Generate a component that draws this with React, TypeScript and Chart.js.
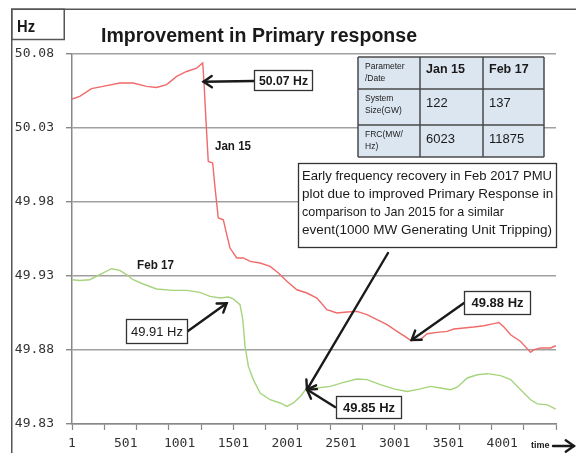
import React, { useEffect, useRef } from 'react';
import { Chart, registerables } from 'chart.js';

Chart.register(...registerables);

// ---- data ----
const jan15Samples = [1, 73, 182, 290, 445, 569, 694, 787, 881, 974, 1067, 1160, 1216, 1228, 1247, 1268, 1309, 1331, 1361, 1408, 1440, 1470, 1533, 1594, 1657, 1750, 1843, 1920, 1999, 2092, 2185, 2278, 2371, 2464, 2558, 2651, 2744, 2837, 2930, 3023, 3117, 3147, 3241, 3303, 3396, 3489, 3551, 3644, 3737, 3830, 3924, 3970, 4017, 4079, 4172, 4265, 4296, 4359, 4452, 4499];
const jan15Hz = [50.0496, 50.0514, 50.0566, 50.0581, 50.0604, 50.0604, 50.0581, 50.0574, 50.0593, 50.0649, 50.0682, 50.0705, 50.0739, 50.0615, 50.0345, 50.0074, 50.0064, 49.9895, 49.9692, 49.968, 49.9579, 49.9489, 49.9422, 49.9422, 49.9399, 49.9388, 49.9365, 49.932, 49.9264, 49.9207, 49.9185, 49.9151, 49.9072, 49.905, 49.9057, 49.9061, 49.9039, 49.9005, 49.8971, 49.8926, 49.8882, 49.8865, 49.887, 49.891, 49.8919, 49.8926, 49.8942, 49.8949, 49.8955, 49.8964, 49.8978, 49.8986, 49.8955, 49.8903, 49.8858, 49.8784, 49.8802, 49.8814, 49.8814, 49.8829];

const feb17Samples = [1, 73, 166, 259, 368, 445, 508, 569, 663, 787, 942, 1067, 1191, 1284, 1377, 1454, 1501, 1563, 1589, 1610, 1641, 1687, 1750, 1843, 1936, 1999, 2060, 2123, 2185, 2278, 2402, 2526, 2651, 2744, 2868, 2992, 3117, 3241, 3334, 3427, 3520, 3583, 3676, 3769, 3862, 3986, 4079, 4172, 4265, 4328, 4421, 4499];
const feb17Hz = [49.9275, 49.927, 49.9275, 49.9309, 49.9349, 49.9338, 49.9309, 49.9275, 49.9246, 49.9212, 49.9203, 49.9203, 49.9189, 49.9162, 49.9151, 49.9158, 49.9145, 49.9106, 49.9005, 49.8824, 49.8689, 49.86, 49.8509, 49.8464, 49.8442, 49.8419, 49.8442, 49.8486, 49.8543, 49.8543, 49.8554, 49.8581, 49.8604, 49.86, 49.8566, 49.8537, 49.852, 49.8537, 49.8554, 49.8543, 49.8532, 49.8549, 49.8611, 49.8633, 49.864, 49.8627, 49.86, 49.8532, 49.8464, 49.8436, 49.8429, 49.8401];

const yTickValues = [49.83, 49.88, 49.93, 49.98, 50.03, 50.08];
const xLabelTicks = [1, 501, 1001, 1501, 2001, 2501, 3001, 3501, 4001];
const xMarkTicks = [1, 301, 601, 901, 1201, 1501, 1801, 2101, 2401, 2701, 3001, 3301, 3601, 3901, 4201, 4501];

const chartTitle = 'Improvement in Primary response';
const unitLabel = 'Hz';
const tableRows = [
  ['Parameter\n/Date', 'Jan 15', 'Feb 17'],
  ['System\nSize(GW)', '122', '137'],
  ['FRC(MW/\nHz)', '6023', '11875'],
];
const noteLines = [
  'Early frequency recovery in Feb 2017 PMU',
  'plot due to improved Primary Response in',
  'comparison to Jan 2015 for a similar',
  'event(1000 MW Generating Unit Tripping)',
];
// callouts: tip given in data coordinates (sample, Hz)
const callouts = [
  { text: '50.07 Hz', bold: true, box: [254, 70, 313, 91], from: [254, 81], tip: [1224, 50.0613] },
  { text: '49.91 Hz', bold: false, box: [126, 319, 188, 344], from: [188, 331], tip: [1439, 49.9116] },
  { text: '49.88 Hz', bold: true, box: [464, 291, 531, 315], from: [464, 303], tip: [3159, 49.8868] },
  { text: '49.85 Hz', bold: true, box: [336, 396, 402, 419], from: [335, 407], tip: [2186, 49.8533] },
];

const RED = '#f06a6a';
const GREEN = '#a6d47c';
const SANS = '"Liberation Sans", Arial, sans-serif';
const MONO = '"DejaVu Sans Mono", monospace';

function drawArrow(ctx: CanvasRenderingContext2D, x1: number, y1: number, x2: number, y2: number) {
  ctx.save();
  ctx.strokeStyle = '#1a1a1a';
  ctx.lineWidth = 2.4;
  ctx.lineCap = 'round';
  ctx.beginPath();
  ctx.moveTo(x1, y1);
  ctx.lineTo(x2, y2);
  ctx.stroke();
  const a = Math.atan2(y2 - y1, x2 - x1);
  const L = 10;
  const w = 0.6;
  ctx.beginPath();
  ctx.moveTo(x2 - L * Math.cos(a - w), y2 - L * Math.sin(a - w));
  ctx.lineTo(x2, y2);
  ctx.lineTo(x2 - L * Math.cos(a + w), y2 - L * Math.sin(a + w));
  ctx.stroke();
  ctx.restore();
}

const overlayPlugin = {
  id: 'overlay',
  afterDraw(chart: any) {
    const ctx: CanvasRenderingContext2D = chart.ctx;
    const xs = chart.scales.x;
    const ys = chart.scales.y;
    ctx.save();

    // outer frame + Hz box
    ctx.strokeStyle = '#555';
    ctx.lineWidth = 1.5;
    ctx.beginPath();
    ctx.moveTo(11.75, 453);
    ctx.lineTo(11.75, 9.25);
    ctx.lineTo(576, 9.25);
    ctx.stroke();
    ctx.strokeRect(11.75, 9.25, 52.5, 30.25);
    ctx.fillStyle = '#1a1a1a';
    ctx.font = `bold 16px ${SANS}`;
    ctx.textBaseline = 'alphabetic';
    ctx.textAlign = 'left';
    ctx.fillText(unitLabel, 17, 31.5, 18);

    // title
    ctx.font = `bold 20px ${SANS}`;
    ctx.fillText(chartTitle, 101, 41.5, 316);

    // table
    const cols = [358, 420, 483, 544];
    const rows = [57, 89, 125, 157];
    ctx.fillStyle = '#dce6f1';
    ctx.fillRect(cols[0], rows[0], cols[3] - cols[0], rows[3] - rows[0]);
    ctx.strokeStyle = '#4a4a4a';
    ctx.lineWidth = 1.5;
    for (const c of cols) { ctx.beginPath(); ctx.moveTo(c, rows[0]); ctx.lineTo(c, rows[3]); ctx.stroke(); }
    for (const r of rows) { ctx.beginPath(); ctx.moveTo(cols[0], r); ctx.lineTo(cols[3], r); ctx.stroke(); }
    ctx.fillStyle = '#1a1a1a';
    ctx.textBaseline = 'middle';
    tableRows.forEach((row, ri) => {
      row.forEach((cell, ci) => {
        const x = cols[ci] + 6;
        const top = rows[ri];
        if (ci === 0) {
          ctx.font = `8.5px ${SANS}`;
          cell.split('\n').forEach((ln, li) => ctx.fillText(ln, x + 1, top + 10 + li * 12, 48));
        } else if (ri === 0) {
          ctx.font = `bold 12.5px ${SANS}`;
          ctx.fillText(cell, x, top + 13);
        } else {
          ctx.font = `13px ${SANS}`;
          ctx.fillText(cell, x, top + 14);
        }
      });
    });

    // note box
    ctx.fillStyle = '#fff';
    ctx.fillRect(298, 163, 259, 85);
    ctx.strokeStyle = '#333';
    ctx.lineWidth = 1.3;
    ctx.strokeRect(298.5, 163.5, 258, 84);
    ctx.fillStyle = '#1a1a1a';
    ctx.font = `13.5px ${SANS}`;
    const noteW = [250, 253, 202, 253];
    noteLines.forEach((ln, i) => ctx.fillText(ln, 302, 176 + i * 18, noteW[i]));

    // series labels
    ctx.font = `bold 13px ${SANS}`;
    ctx.fillText('Jan 15', 215, 146, 36);
    ctx.fillText('Feb 17', 137, 265, 37);

    // callouts
    for (const c of callouts) {
      const [bx1, by1, bx2, by2] = c.box;
      const tx = xs.getPixelForValue(c.tip[0]);
      const ty = ys.getPixelForValue(c.tip[1]);
      drawArrow(ctx, c.from[0], c.from[1], tx, ty);
      ctx.fillStyle = '#fff';
      ctx.fillRect(bx1, by1, bx2 - bx1, by2 - by1);
      ctx.strokeStyle = '#333';
      ctx.lineWidth = 1.3;
      ctx.strokeRect(bx1 + 0.5, by1 + 0.5, bx2 - bx1 - 1, by2 - by1 - 1);
      ctx.fillStyle = '#1a1a1a';
      ctx.font = `${c.bold ? 'bold ' : ''}13px ${SANS}`;
      ctx.textAlign = 'center';
      ctx.fillText(c.text, (bx1 + bx2) / 2, (by1 + by2) / 2 + 0.5, bx2 - bx1 - 10);
      ctx.textAlign = 'left';
    }
    // long arrow from note to Feb 17 trough recovery
    const c4 = callouts[3];
    drawArrow(ctx, 388, 253, xs.getPixelForValue(c4.tip[0]), ys.getPixelForValue(c4.tip[1]));

    // time arrow
    ctx.fillStyle = '#1a1a1a';
    ctx.font = `bold 9px ${SANS}`;
    ctx.fillText('time', 531, 446, 19);
    drawArrow(ctx, 553, 446, 574, 446);

    ctx.restore();
  },
};

export default function App() {
  const ref = useRef<HTMLCanvasElement | null>(null);
  useEffect(() => {
    if (!ref.current) return;
    const labelSet = new Set(xLabelTicks);
    const markSet = new Set(xMarkTicks);
    const allX = Array.from(new Set([...xLabelTicks, ...xMarkTicks])).sort((a, b) => a - b);
    const chart = new Chart(ref.current, {
      type: 'line',
      data: {
        datasets: [
          {
            label: 'Jan 15',
            data: jan15Samples.map((s, i) => ({ x: s, y: jan15Hz[i] })),
            borderColor: RED,
            borderWidth: 1.4,
            pointRadius: 0,
            tension: 0,
          },
          {
            label: 'Feb 17',
            data: feb17Samples.map((s, i) => ({ x: s, y: feb17Hz[i] })),
            borderColor: GREEN,
            borderWidth: 1.4,
            pointRadius: 0,
            tension: 0,
          },
        ],
      },
      options: {
        responsive: false,
        animation: false,
        devicePixelRatio: 1,
        layout: { padding: { left: 0, top: 54, right: 20, bottom: 0 } },
        plugins: { legend: { display: false }, tooltip: { enabled: false }, title: { display: false } },
        scales: {
          x: {
            type: 'linear',
            min: 1,
            max: 4501,
            afterBuildTicks: (s: any) => { s.ticks = allX.map((v) => ({ value: v })); },
            afterFit: (s: any) => { s.height = 29; },
            ticks: {
              autoSkip: false,
              maxRotation: 0,
              padding: 6,
              color: '#333',
              font: { family: MONO, size: 13 },
              callback: (v: any) => (labelSet.has(Number(v)) ? String(v) : ''),
            },
            grid: {
              drawOnChartArea: false,
              tickLength: 6,
              tickWidth: 1.2,
              tickColor: (c: any) => (c.tick && markSet.has(c.tick.value) ? '#888' : 'rgba(0,0,0,0)'),
            },
            border: { color: '#888', width: 1.5 },
          },
          y: {
            type: 'linear',
            min: 49.83,
            max: 50.08,
            afterBuildTicks: (s: any) => { s.ticks = yTickValues.map((v) => ({ value: v })); },
            afterFit: (s: any) => { s.width = 72; },
            ticks: {
              padding: 12,
              color: '#333',
              font: { family: MONO, size: 13 },
              callback: (v: any) => Number(v).toFixed(2),
            },
            grid: { color: '#a0a0a0', lineWidth: 1.4, tickLength: 6, tickColor: '#888' },
            border: { color: '#888', width: 1.5 },
          },
        },
      },
      plugins: [overlayPlugin],
    });
    return () => chart.destroy();
  }, []);
  return (
    <canvas
      ref={ref}
      width={576}
      height={453}
      style={{ position: 'absolute', left: 0, top: 0, width: '576px', height: '453px' }}
    />
  );
}
